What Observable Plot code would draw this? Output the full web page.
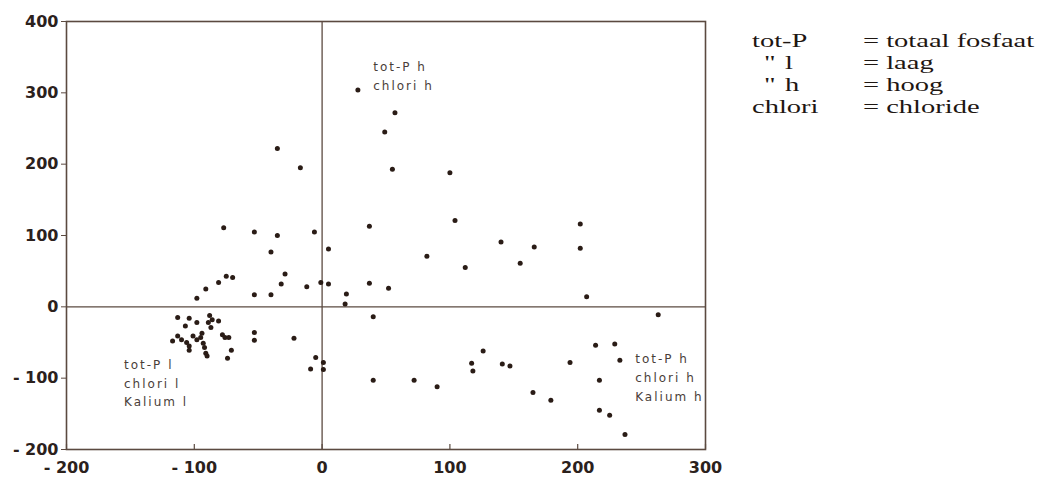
<!DOCTYPE html>
<html>
<head>
<meta charset="utf-8">
<script src="https://cdn.jsdelivr.net/npm/d3@7"></script>
<script src="https://cdn.jsdelivr.net/npm/@observablehq/plot@0.6"></script>
<style>
  body { margin: 0; background: #ffffff; }
  #wrap { position: relative; width: 1045px; height: 481px; }
  #wrap svg { position: absolute; left: 0; top: 0; }
  .lg {
    position: absolute;
    font-family: "Liberation Serif", serif;
    font-size: 19px;
    line-height: 19px;
    color: #1e1612;
    white-space: nowrap;
    transform: scaleX(1.5);
    transform-origin: 0 50%;
  }
</style>
</head>
<body>
<div id="wrap"></div>
<script>
// Sample scores on the first (horizontal) and second (vertical) component
const scoreX = [
  -113, -104, -107, -98, -88, -86, -81, -89, -87, -117, -113, -110, -106, -104,
  -101, -98, -95, -93, -92, -91, -104, -94, -78, -76, -73, -71, -74, -90,
  -35, -17, -77, -53, -35, -6, 5, -40, -29, -75, -70, -81, -91, -98, -53, -40,
  -32, -12, -1, 5,
  28, 57, 49, 55, 100, 37, 104, 82, 112, 37, 52, 19, 18,
  202, 140, 166, 202, 155, 207,
  40, -53, -53, -22, -5, -9, 1, 1, 40, 72, 90,
  263, 126, 117, 118, 141, 147, 194, 214, 229, 233, 217, 165, 179, 217, 225, 237
];
const scoreY = [
  -15, -16, -27, -22, -12, -18, -20, -22, -29, -48, -41, -46, -50, -55,
  -41, -46, -43, -51, -57, -65, -61, -37, -39, -43, -43, -61, -72, -69,
  222, 195, 111, 105, 100, 105, 81, 77, 46, 43, 41, 34, 25, 12, 17, 17,
  32, 28, 34, 32,
  304, 272, 245, 193, 188, 113, 121, 71, 55, 33, 26, 18, 4,
  116, 91, 84, 82, 61, 14,
  -14, -36, -47, -44, -71, -87, -78, -88, -103, -103, -112,
  -11, -62, -79, -90, -80, -83, -78, -54, -52, -75, -103, -120, -131, -145, -152, -179
];

const xTicks = [-200, -100, 0, 100, 200, 300];
const yTicks = [-200, -100, 0, 100, 200, 300, 400];

// Group descriptions written inside the plot
const groupLabels = ["tot-P h\nchlori h", "tot-P l\nchlori l\nKalium l", "tot-P h\nchlori h\nKalium h"];
const groupX = [40, -155, 245];
const groupY = [326, -105, -97];

// Abbreviation key
const keyTerms = ["tot-P", "l", "h", "chlori"];
const keyDitto = [false, true, true, false];
const keyMeanings = ["= totaal fosfaat", "= laag", "= hoog", "= chloride"];

const points = scoreX.map((x, i) => ({x, y: scoreY[i]}));
const ink = "#2b211c";
const lineInk = "#5b4a40";
const fmt = d => d < 0 ? "- " + Math.abs(d) : String(d);

const chart = Plot.plot({
  width: 745,
  height: 481,
  marginLeft: 66,
  marginRight: 40,
  marginTop: 21,
  marginBottom: 32,
  x: {domain: [-200, 300]},
  y: {domain: [-200, 400]},
  style: {background: "transparent", color: ink},
  marks: [
    Plot.frame({stroke: lineInk, strokeWidth: 1.6}),
    Plot.ruleX([0], {stroke: lineInk, strokeWidth: 1.3}),
    Plot.ruleY([0], {stroke: lineInk, strokeWidth: 1.3}),
    Plot.tickX(xTicks, {x: d => d, insetTop: 423, stroke: lineInk, strokeWidth: 1.2}),
    Plot.axisX(xTicks, {
      tickSize: 0, tickPadding: 12, label: null, tickFormat: fmt,
      fontSize: 16, fontWeight: "bold", fontFamily: "DejaVu Sans", fill: ink
    }),
    Plot.axisY(yTicks, {
      tickSize: 5, tickPadding: 3, label: null, tickFormat: fmt, stroke: lineInk,
      fontSize: 16, fontWeight: "bold", fontFamily: "DejaVu Sans", fill: ink
    }),
    Plot.dot(points, {x: "x", y: "y", r: 2.5, fill: "#2a1c16", stroke: null}),
    Plot.text(groupLabels, {
      x: (d, i) => groupX[i], y: (d, i) => groupY[i], text: d => d,
      textAnchor: "start", lineAnchor: "middle", lineHeight: 1.55,
      fontSize: 12, fontFamily: "DejaVu Sans", fill: "#4a3e39"
    })
  ]
});

// letter-spaced group descriptions
chart.querySelectorAll("g[aria-label='text'] text").forEach(t => t.style.letterSpacing = "2px");

const wrap = document.getElementById("wrap");
wrap.appendChild(chart);

keyTerms.forEach((term, i) => {
  const top = 31 + i * 22;
  if (keyDitto[i]) {
    const q = document.createElement("div");
    q.className = "lg";
    q.style.left = "764px"; q.style.top = top + "px";
    q.textContent = "\"";
    wrap.appendChild(q);
    const t = document.createElement("div");
    t.className = "lg";
    t.style.left = "785px"; t.style.top = top + "px";
    t.textContent = term;
    wrap.appendChild(t);
  } else {
    const t = document.createElement("div");
    t.className = "lg";
    t.style.left = "752px"; t.style.top = top + "px";
    t.textContent = term;
    wrap.appendChild(t);
  }
  const m = document.createElement("div");
  m.className = "lg";
  m.style.left = "863px"; m.style.top = top + "px";
  m.textContent = keyMeanings[i];
  wrap.appendChild(m);
});
</script>
</body>
</html>
